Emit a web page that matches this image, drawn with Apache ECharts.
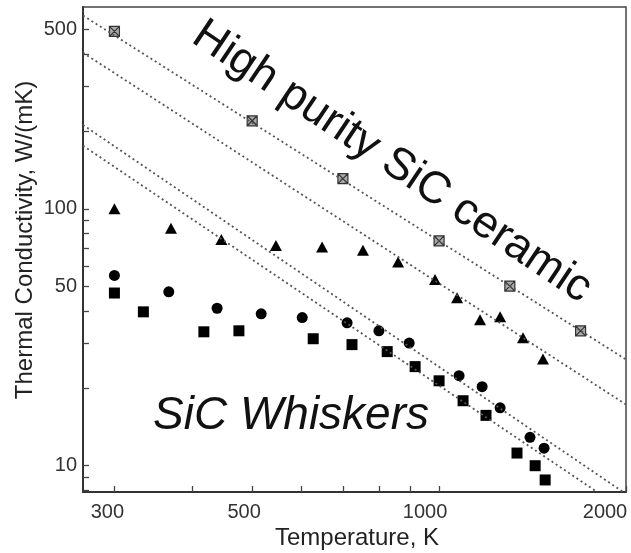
<!DOCTYPE html>
<html>
<head>
<meta charset="utf-8">
<script src="https://cdn.jsdelivr.net/npm/echarts@6/dist/echarts.min.js"></script>
<style>
  html, body { margin: 0; padding: 0; background: #fff; }
  #chart { width: 631px; height: 553px; }
</style>
</head>
<body>
<div id="chart"></div>
<script>
// 数据：点 (温度 K, 热导率 W/(mK))
const tempPure = [300, 500, 700, 1000, 1300, 1690];
const kPure = [490, 220, 131, 75, 50, 33.5];

const tempTri = [300, 370, 446, 546, 648, 754, 859, 985, 1069, 1164, 1254, 1365, 1470];
const kTri = [100, 84, 76, 72, 71, 69, 62, 53, 45, 37, 38, 31.5, 26];

const tempCircle = [300, 367, 439, 517, 602, 711, 800, 895, 1077, 1173, 1254, 1401, 1476];
const kCircle = [55, 47.5, 41, 39, 37.7, 36, 33.5, 30, 22.4, 20.3, 16.8, 12.9, 11.7];

const tempSquare = [300, 334, 418, 476, 627, 724, 825, 915, 1000, 1093, 1190, 1335, 1428, 1482];
const kSquare = [47, 39.7, 33.2, 33.5, 31.2, 29.6, 27.8, 24.3, 21.4, 17.9, 15.7, 11.2, 10.0, 8.8];

// 虚线 (端点)
const fitLines = [
  [[267, 565], [2000, 25.9]],
  [[267, 405], [2000, 17.3]],
  [[267, 212], [1979, 7.9]],
  [[267, 176], [1797, 7.9]]
];

// 坐标轴刻度
const xLabels = [300, 500, 1000, 2000];
const xTicks = [300, 400, 500, 600, 700, 800, 900, 1000, 2000];
const yLabels = [10, 50, 100, 500];
const yTicks = [8, 9, 10, 20, 30, 40, 50, 60, 70, 80, 90, 100, 200, 300, 400, 500];

const zip = (xs, ys) => xs.map((x, i) => [x, ys[i]]);

const chart = echarts.init(document.getElementById('chart'));

const font = '"Liberation Sans", Arial, Helvetica, sans-serif';
// 标签略向左偏移 (与原图一致)
const xShift = { 300: 7, 500: 8, 1000: 14, 2000: 21 };
const rich = {};
Object.keys(xShift).forEach(k => {
  rich['s' + k] = {
    fontSize: 20, fontFamily: font, color: '#333',
    padding: [0, xShift[k] * 2, 0, 0]
  };
});

const option = {
  animation: false,
  backgroundColor: '#fff',
  grid: {
    left: 83, top: 7, right: 5, bottom: 61,
    show: true, borderColor: '#444', borderWidth: 1.5, backgroundColor: 'transparent'
  },
  xAxis: {
    type: 'log', logBase: 10, min: 267, max: 2000,
    axisLine: { show: true, lineStyle: { color: '#333', width: 2 } },
    splitLine: { show: false },
    axisTick: { show: true, inside: true, length: 6, customValues: xTicks, lineStyle: { color: '#444', width: 1.3 } },
    axisLabel: {
      customValues: xLabels,
      margin: 10,
      fontSize: 20, fontFamily: font, color: '#333',
      formatter: v => '{s' + v + '|' + v + '}',
      rich: rich
    }
  },
  yAxis: {
    type: 'log', logBase: 10, min: 7.9, max: 610,
    axisLine: { show: true, lineStyle: { color: '#333', width: 2 } },
    splitLine: { show: false },
    axisTick: { show: true, inside: true, length: 6, customValues: yTicks, lineStyle: { color: '#444', width: 1.3 } },
    axisLabel: {
      customValues: yLabels,
      margin: 6,
      fontSize: 20, fontFamily: font, color: '#333'
    }
  },
  graphic: [
    {
      type: 'text', x: 25, y: 240, rotation: Math.PI / 2,
      style: {
        text: 'Thermal Conductivity, W/(mK)', fill: '#222',
        font: '24px ' + font, align: 'center', verticalAlign: 'middle'
      }
    },
    {
      type: 'text', x: 357, y: 538,
      style: {
        text: 'Temperature, K', fill: '#222',
        font: '24px ' + font, align: 'center', verticalAlign: 'middle'
      }
    },
    {
      type: 'text', x: 392, y: 162, rotation: -33.9 * Math.PI / 180,
      style: {
        text: 'High purity SiC ceramic', fill: '#111',
        font: '45px ' + font, align: 'center', verticalAlign: 'middle'
      }
    },
    {
      type: 'text', x: 153, y: 416,
      style: {
        text: 'SiC Whiskers', fill: '#111',
        font: 'italic 46px ' + font, align: 'left', verticalAlign: 'middle'
      }
    }
  ],
  series: [
    ...fitLines.map(pts => ({
      type: 'line',
      data: pts,
      symbol: 'none',
      silent: true,
      lineStyle: { color: '#555', width: 1.8, type: [2, 3] }
    })),
    {
      type: 'scatter',
      data: zip(tempPure, kPure),
      symbol: 'path://M0,0L10,0L10,10L0,10Z M0,0L10,10 M10,0L0,10',
      symbolSize: 10,
      itemStyle: { color: '#aaa', borderColor: '#333', borderWidth: 1.2, opacity: 1 }
    },
    {
      type: 'scatter',
      data: zip(tempTri, kTri),
      symbol: 'triangle',
      symbolSize: [12, 11],
      itemStyle: { color: '#000', opacity: 1 }
    },
    {
      type: 'scatter',
      data: zip(tempCircle, kCircle),
      symbol: 'circle',
      symbolSize: 11,
      itemStyle: { color: '#000', opacity: 1 }
    },
    {
      type: 'scatter',
      data: zip(tempSquare, kSquare),
      symbol: 'rect',
      symbolSize: 11,
      itemStyle: { color: '#000', opacity: 1 }
    }
  ]
};

chart.setOption(option);
</script>
</body>
</html>
